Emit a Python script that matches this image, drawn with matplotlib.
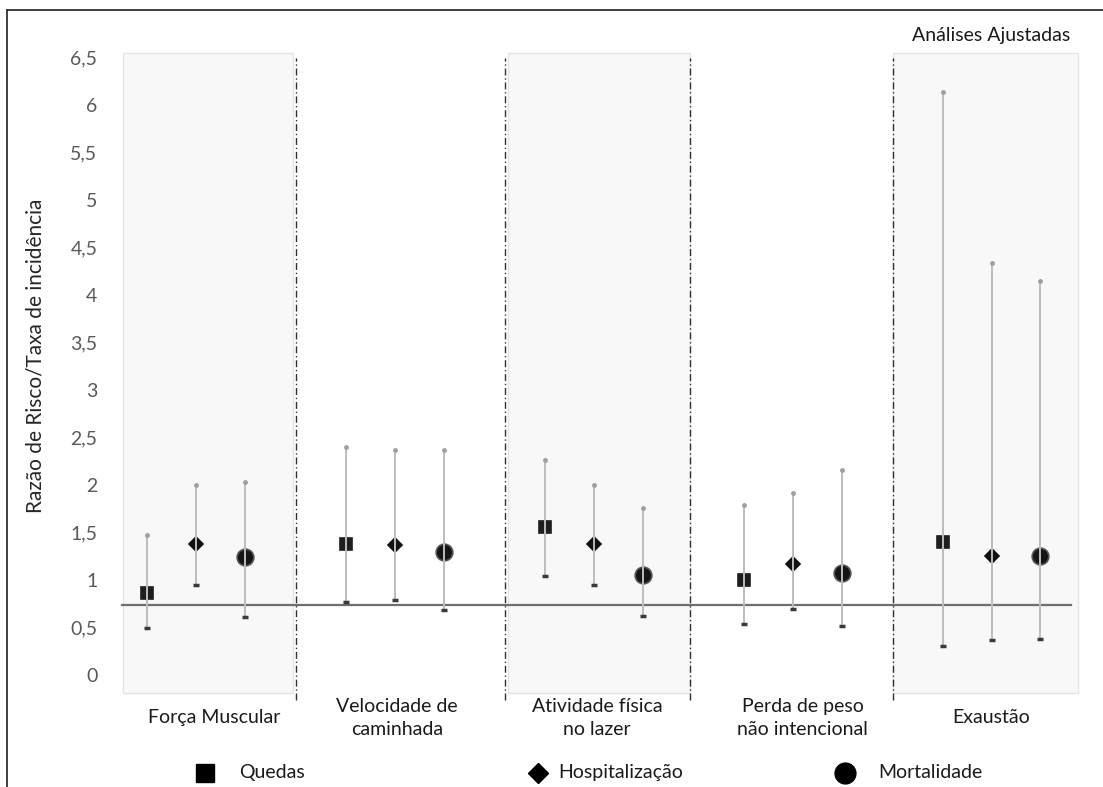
import matplotlib.pyplot as plt
from matplotlib.lines import Line2D
from matplotlib.patches import Rectangle

plt.rcParams['font.family'] = ['Lato', 'DejaVu Sans']

# groups (x positions 0..4), one point per outcome in each group
groups = ['Força Muscular', 'Velocidade de\ncaminhada', 'Atividade física\nno lazer',
          'Perda de peso\nnão intencional', 'Exaustão']
outcomes = ['Quedas', 'Hospitalização', 'Mortalidade']

quedas = [0.86, 1.38, 1.56, 1.00, 1.40]
quedas_lo = [0.49, 0.77, 1.04, 0.54, 0.31]
quedas_hi = [1.47, 2.40, 2.26, 1.79, 6.13]

hosp = [1.38, 1.37, 1.38, 1.17, 1.25]
hosp_lo = [0.95, 0.79, 0.95, 0.69, 0.37]
hosp_hi = [2.00, 2.37, 2.00, 1.92, 4.33]

mort = [1.24, 1.29, 1.05, 1.07, 1.25]
mort_lo = [0.61, 0.68, 0.62, 0.52, 0.38]
mort_hi = [2.03, 2.37, 1.76, 2.16, 4.14]

ref_line = 0.736
yticks = [0, 0.5, 1, 1.5, 2, 2.5, 3, 3.5, 4, 4.5, 5, 5.5, 6, 6.5]

fig = plt.figure(figsize=(11.03, 7.87), dpi=100)
ax = fig.add_axes([0.0997, 0.106, 0.8885, 0.8456])
ax.set_xlim(-0.432, 4.495)
ax.set_ylim(-0.3, 6.7)

# shaded panels
for x0, x1 in [(-0.367, 0.488), (1.569, 2.484), (3.504, 4.434)]:
    ax.add_patch(Rectangle((x0, -0.19), x1 - x0, 6.73, facecolor='#f8f8f8',
                           edgecolor='#e4e4e4', lw=1, zorder=0))

# dash-dot separators
for xv in [0.503, 1.553, 2.484, 3.504]:
    ax.plot([xv, xv], [-0.26, 6.49], color='#303030', lw=1,
            linestyle=(0, (5, 2, 1, 2)), zorder=1)

# reference line
ax.plot([-0.372, 4.4], [ref_line, ref_line], color='#6e6e6e', lw=1.6, zorder=2)

offsets = [-0.246, 0, 0.246]
series = [(quedas, quedas_lo, quedas_hi, 's', 9, '#1e1e1e'),
          (hosp, hosp_lo, hosp_hi, 'D', 7, '#111111'),
          (mort, mort_lo, mort_hi, 'o', 12, '#151515')]

for (vals, lo, hi, mk, ms, col), off in zip(series, offsets):
    xs = [i + off for i in range(len(groups))]
    ax.plot(xs, vals, linestyle='none', marker=mk, ms=ms, color=col,
            markeredgecolor='#555555' if mk == 'o' else col, mew=1.2, zorder=3)
    for x, l, h in zip(xs, lo, hi):
        ax.plot([x, x], [l, h], color='#bdbdbd', lw=1.4, zorder=4)
    ax.plot(xs, lo, linestyle='none', marker='_', ms=5, mew=2.5, color='#3a3a3a', zorder=5)
    ax.plot(xs, hi, linestyle='none', marker='o', ms=2.5, color='#a0a0a0', zorder=5)

# axes styling
for s in ax.spines.values():
    s.set_visible(False)
ax.set_xticks([])
ax.set_yticks(yticks)
ax.set_yticklabels([('%g' % t).replace('.', ',') for t in yticks])
ax.tick_params(axis='y', length=0, pad=9, labelsize=14, labelcolor='#595959')
ax.set_ylabel('Razão de Risco/Taxa de incidência', fontsize=15, color='#262626')
ax.yaxis.set_label_coords(-0.066, 0.522)

# group labels
label_x = [0.09, 1.01, 2.016, 3.05, 3.996]
for lx, g in zip(label_x, groups):
    ax.text(lx, -0.45, g, ha='center', va='center', fontsize=14,
            color='#1a1a1a', linespacing=1.4, clip_on=False)

ax.text(4.0, 6.73, 'Análises Ajustadas', ha='center', va='center',
        fontsize=14, color='#1a1a1a', clip_on=False)

# legend
leg_mx = [0.045, 1.72, 3.263]
leg_tx = [0.216, 1.82, 3.429]
leg_ms = [12.5, 10, 15]
for (vals, lo, hi, mk, ms, col), mx, tx, lms, name in zip(series, leg_mx, leg_tx, leg_ms, outcomes):
    ax.plot([mx], [-1.03], marker=mk, ms=lms, color='black', linestyle='none', clip_on=False)
    ax.text(tx, -1.03, name, ha='left', va='center', fontsize=14,
            color='#1a1a1a', clip_on=False)

# outer frame (left and top)
fig.add_artist(Line2D([7 / 1103, 7 / 1103], [0, 1 - 10 / 787], color='#303030', lw=1.3))
fig.add_artist(Line2D([7 / 1103, 1], [1 - 10 / 787, 1 - 10 / 787], color='#303030', lw=1.3))

fig.savefig('out.png', dpi=100)
